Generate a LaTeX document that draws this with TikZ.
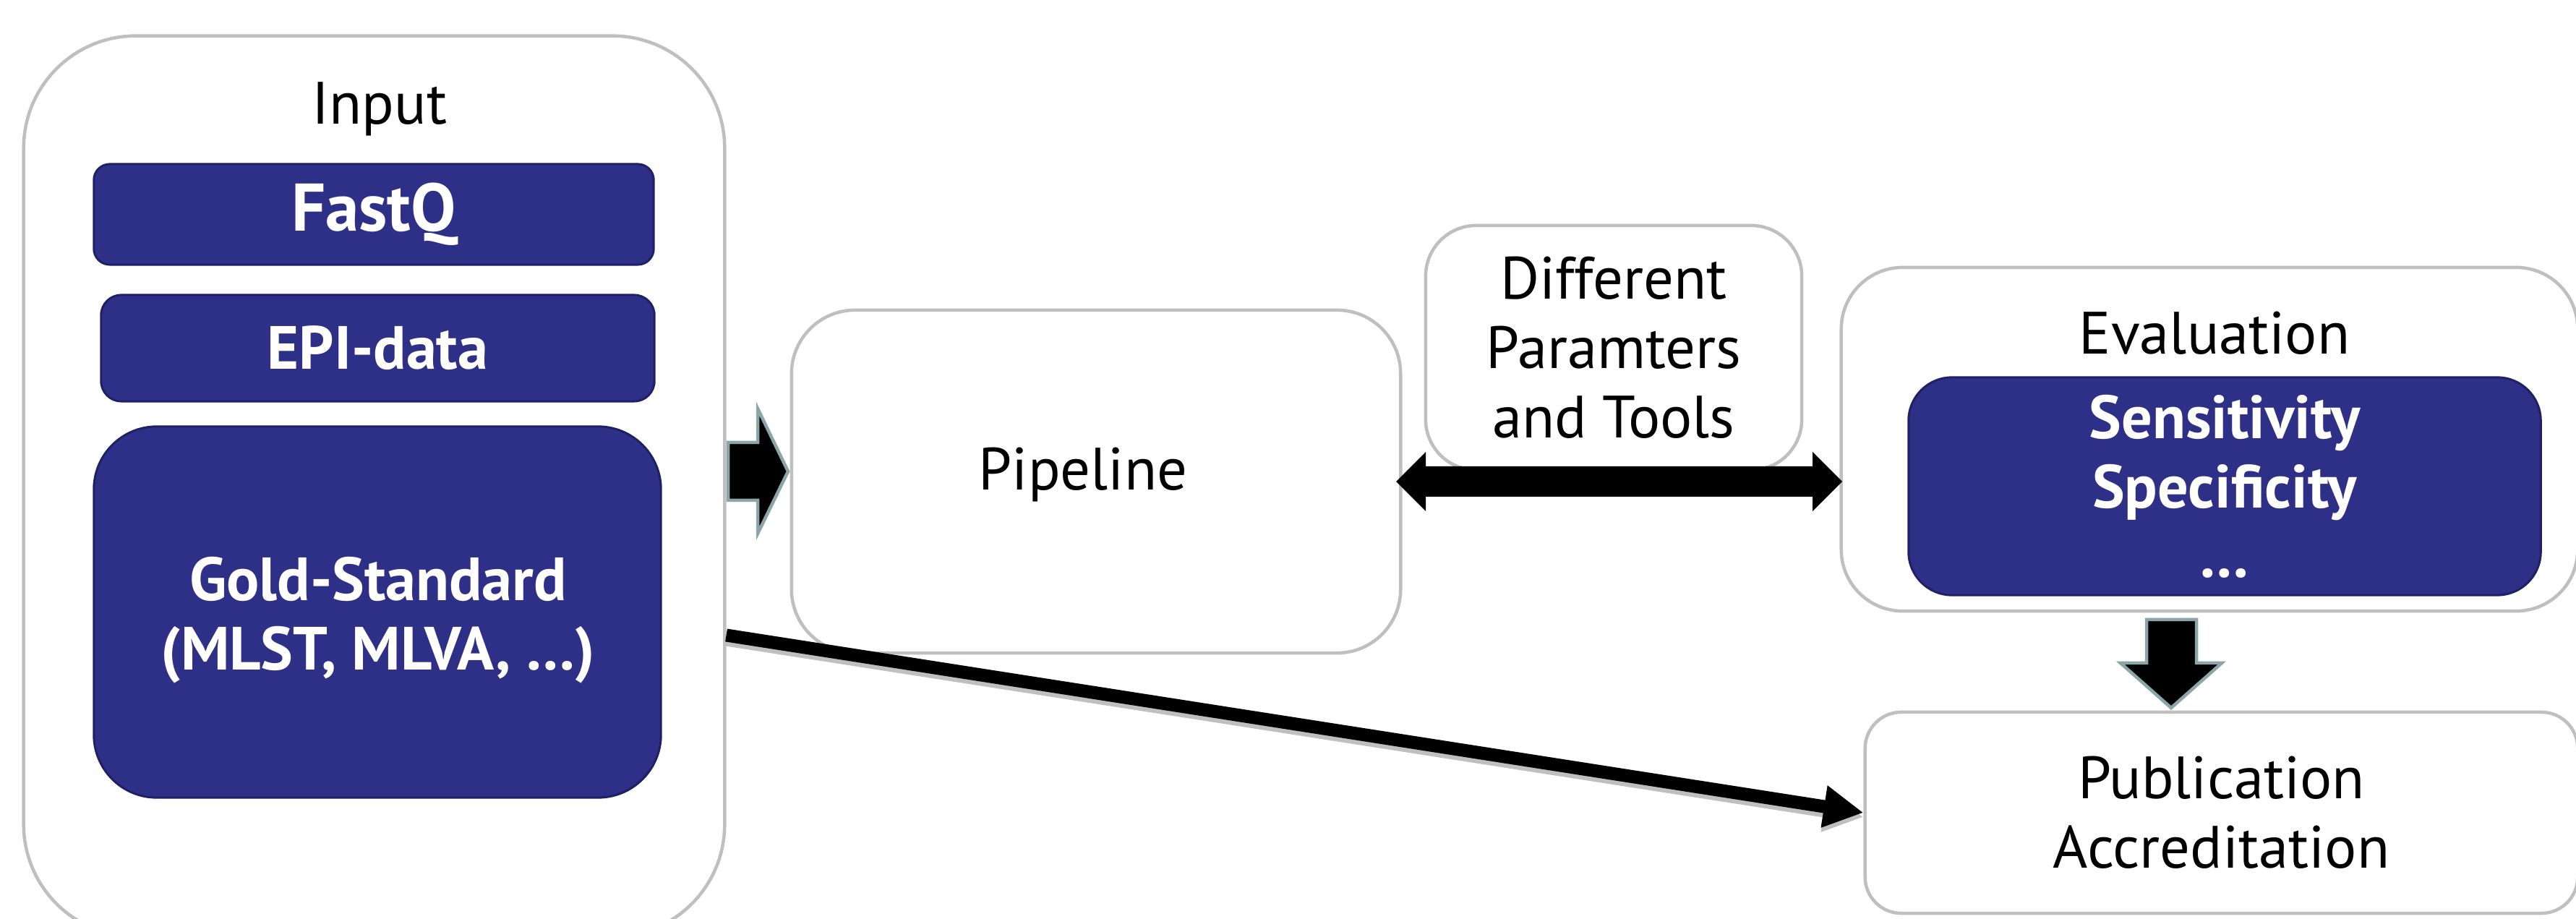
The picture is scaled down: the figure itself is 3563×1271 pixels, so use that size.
\documentclass[tikz,border=0pt]{standalone}
\usepackage{fontspec}
\setmainfont{PT Sans}
\usepackage{tikz}
\usetikzlibrary{arrows.meta}

\definecolor{boxgray}{HTML}{BFBFBF}
\definecolor{navy}{HTML}{2E3087}
\definecolor{navyline}{HTML}{1F2066}
\definecolor{arrowline}{HTML}{8CA5A8}

\begin{document}
\begin{tikzpicture}[x=0.01cm, y=-0.01cm,
    outerbox/.style={draw=boxgray, line width=0.45mm, fill=white, align=center,
        font=\fontsize{23.5}{27.3}\selectfont},
    innerbox/.style={draw=navyline, line width=0.3mm, fill=navy, text=white, align=center,
        font=\bfseries\fontsize{24}{27.3}\selectfont},
    title/.style={anchor=base, font=\fontsize{23.5}{27.3}\selectfont},
    blockarrow/.style={fill=black, draw=arrowline, line width=0.45mm, line join=miter}]

    \useasboundingbox (0,0) rectangle (3563,1271);

    % Draw the input column
    \node[outerbox, rounded corners=1.55cm, minimum width=9.69cm, minimum height=12.45cm] (Input) at (517.5,672.5) {};
    \node[title] (InputTitle) at (525,172) {Input};
    \node[innerbox, rounded corners=0.22cm, minimum width=7.74cm, minimum height=1.39cm,
        font=\bfseries\fontsize{26.5}{30}\selectfont] (FastQ) at (517,296.5) {FastQ};
    \node[innerbox, rounded corners=0.28cm, minimum width=7.65cm, minimum height=1.47cm] (Epi) at (522.5,481.5) {EPI-data};
    \node[innerbox, rounded corners=0.87cm, minimum width=7.84cm, minimum height=5.13cm] (Gold) at (522,846.5) {};
    \node[innerbox, draw=none, fill=none] (GoldText) at (523,858) {Gold-Standard\\(MLST, MLVA, \dots)};

    % Draw the pipeline and the parameter box
    \node[outerbox, rounded corners=0.88cm, minimum width=8.42cm, minimum height=4.74cm] (Pipeline) at (1516,666) {};
    \node[title] (PipelineText) at (1498,678) {Pipeline};
    \node[outerbox, rounded corners=0.7cm, minimum width=5.2cm, minimum height=3.38cm] (Params) at (2232,481)
        {Different\\Paramters\\and Tools};

    % Draw the evaluation box
    \node[outerbox, rounded corners=0.85cm, minimum width=10.18cm, minimum height=4.75cm] (Evaluation) at (3056,607.5) {};
    \node[title] (EvalTitle) at (3063,490) {Evaluation};
    \node[innerbox, rounded corners=0.6cm, minimum width=8.74cm, minimum height=3.01cm] (Measures) at (3077,672.5)
        {Sensitivity\\Specificity\\\dots};

    % Draw the publication box
    \node[outerbox, rounded corners=0.5cm, minimum width=9.85cm, minimum height=2.78cm] (Publication) at (3072.5,1124)
        {Publication\\Accreditation};

    % Block arrows between the stages
    \draw[blockarrow] (1007,612) -- (1048,612) -- (1048,565) -- (1090,652) -- (1048,738) -- (1048,692) -- (1007,692) -- cycle;
    \draw[blockarrow] (2969,857) -- (3038,857) -- (3038,917) -- (3073,917) -- (3003,979) -- (2933,917) -- (2969,917) -- cycle;
    \fill (1931,666) -- (1972,625) -- (1972,645) -- (2507,645) -- (2507,625) -- (2548,666)
        -- (2507,707) -- (2507,687) -- (1972,687) -- (1972,707) -- cycle;

    % Gold standard goes straight to publication (with a soft shadow)
    \path (Input.east) ++(0,206) coordinate (GoldOut);
    \draw[black!25, line width=1.8mm, -{Triangle[length=5.5mm, width=5.5mm]}, transform canvas={yshift=-0.6mm}]
        (GoldOut) -- (Publication.west);
    \draw[line width=1.8mm, -{Triangle[length=5.5mm, width=5.5mm]}] (GoldOut) -- (Publication.west);

\end{tikzpicture}
\end{document}
